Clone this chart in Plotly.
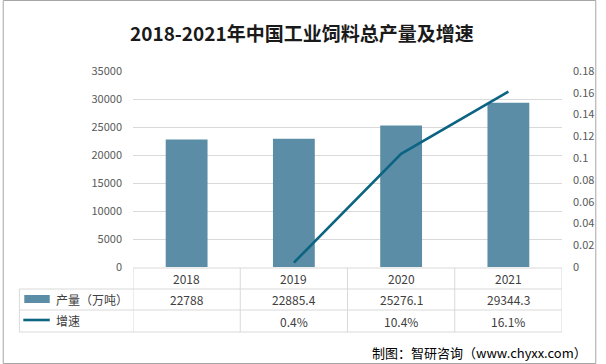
import plotly.graph_objects as go

years = ["2018", "2019", "2020", "2021"]
output = [22788, 22885.4, 25276.1, 29344.3]
output_labels = ["22788", "22885.4", "25276.1", "29344.3"]
growth = [None, 0.004, 0.104, 0.161]
growth_labels = ["", "0.4%", "10.4%", "16.1%"]
left_ticks = [0, 5000, 10000, 15000, 20000, 25000, 30000, 35000]
right_ticks = [0, 0.02, 0.04, 0.06, 0.08, 0.1, 0.12, 0.14, 0.16, 0.18]

W, H = 606, 364
L, R, T, B = 133, 35, 71, 97
PW, PH = W - L - R, H - T - B

def px(x):
    return (x - L) / PW

def py(y):
    return (H - B - y) / PH

BAR = "#5B8EA6"
LINE = "#0C6482"
GRID = "#D9D9D9"
FONT = "Noto Sans CJK SC"

fig = go.Figure()
fig.add_trace(go.Bar(x=years, y=output, marker=dict(color=BAR, line=dict(width=0)),
                     width=0.39, name="产量（万吨）", showlegend=False, hoverinfo="skip"))
fig.add_trace(go.Scatter(x=years, y=growth, yaxis="y2", mode="lines",
                         line=dict(color=LINE, width=2.6), name="增速",
                         showlegend=False, connectgaps=False, hoverinfo="skip"))

shapes = []
ann = []

# table lines
tl = dict(color=GRID, width=1)
shapes.append(dict(type="line", xref="paper", yref="paper", x0=px(L), x1=px(W - R), y0=py(268), y1=py(268), line=tl))
for yy in (289, 310, 332):
    shapes.append(dict(type="line", xref="paper", yref="paper", x0=px(17), x1=px(W - R), y0=py(yy), y1=py(yy), line=tl))
shapes.append(dict(type="line", xref="paper", yref="paper", x0=px(17), x1=px(17), y0=py(289), y1=py(332), line=tl))
for i in range(len(years) + 1):
    shapes.append(dict(type="line", xref="x", yref="paper", x0=i - 0.5, x1=i - 0.5, y0=py(268), y1=py(332), line=tl))

# legend keys
shapes.append(dict(type="rect", xref="paper", yref="paper", x0=px(22), x1=px(48), y0=py(295), y1=py(303),
                   fillcolor=BAR, line=dict(width=0)))
shapes.append(dict(type="line", xref="paper", yref="paper", x0=px(21), x1=px(48), y0=py(320), y1=py(320),
                   line=dict(color=LINE, width=2.6)))

# outer border
shapes.append(dict(type="rect", xref="paper", yref="paper", x0=px(0.5), x1=px(W - 0.5), y0=py(0.5), y1=py(H - 0.5),
                   line=dict(color="#A6A6A6", width=1), fillcolor="rgba(0,0,0,0)"))

tf = dict(family=FONT, size=12, color="#404040")
mid = dict(showarrow=False, yanchor="middle", xanchor="center", font=tf)
for i, yr in enumerate(years):
    ann.append(dict(x=i, y=py(278.5), xref="x", yref="paper", text=yr, **mid))
    ann.append(dict(x=i, y=py(299.5), xref="x", yref="paper", text=output_labels[i], **mid))
    if growth_labels[i]:
        ann.append(dict(x=i, y=py(321), xref="x", yref="paper", text=growth_labels[i], **mid))

ann.append(dict(x=px(52), y=py(299), xref="paper", yref="paper", text="产量（万吨）", showarrow=False,
                xanchor="left", yanchor="middle", font=tf))
ann.append(dict(x=px(52), y=py(320), xref="paper", yref="paper", text="增速", showarrow=False,
                xanchor="left", yanchor="middle", font=tf))
ann.append(dict(x=px(599), y=py(352), xref="paper", yref="paper", text="制图：智研咨询（www.chyxx.com）",
                showarrow=False, xanchor="right", yanchor="middle", font=dict(family=FONT, size=13, color="#000000")))
ann.append(dict(x=px(306), y=py(33), xref="paper", yref="paper", text="<b>2018-2021年中国工业饲料总产量及增速</b>",
                showarrow=False, xanchor="center", yanchor="middle", font=dict(family=FONT, size=19, color="#1A1A1A")))

fig.update_layout(
    width=W, height=H,
    margin=dict(l=L, r=R, t=T, b=B),
    paper_bgcolor="white", plot_bgcolor="white",
    showlegend=False,
    xaxis=dict(type="category", range=[-0.5, 3.5], showticklabels=False, showgrid=False,
               zeroline=False, showline=False, ticks=""),
    yaxis=dict(range=[0, 35000], tickvals=left_ticks, ticktext=[str(v) for v in left_ticks],
               showgrid=True, gridcolor=GRID, gridwidth=1, zeroline=False, showline=False,
               tickfont=dict(family=FONT, size=11, color="#595959"), ticklabelstandoff=10),
    yaxis2=dict(range=[0, 0.18], overlaying="y", side="right", tickvals=right_ticks,
                ticktext=[f"{v:g}" for v in right_ticks], showgrid=False, zeroline=False, showline=False,
                tickfont=dict(family=FONT, size=11, color="#595959"), ticklabelstandoff=10),
    shapes=shapes, annotations=ann,
)

fig.write_html("out.html", config={"displayModeBar": False},
               post_script="document.body.style.margin='0';")
